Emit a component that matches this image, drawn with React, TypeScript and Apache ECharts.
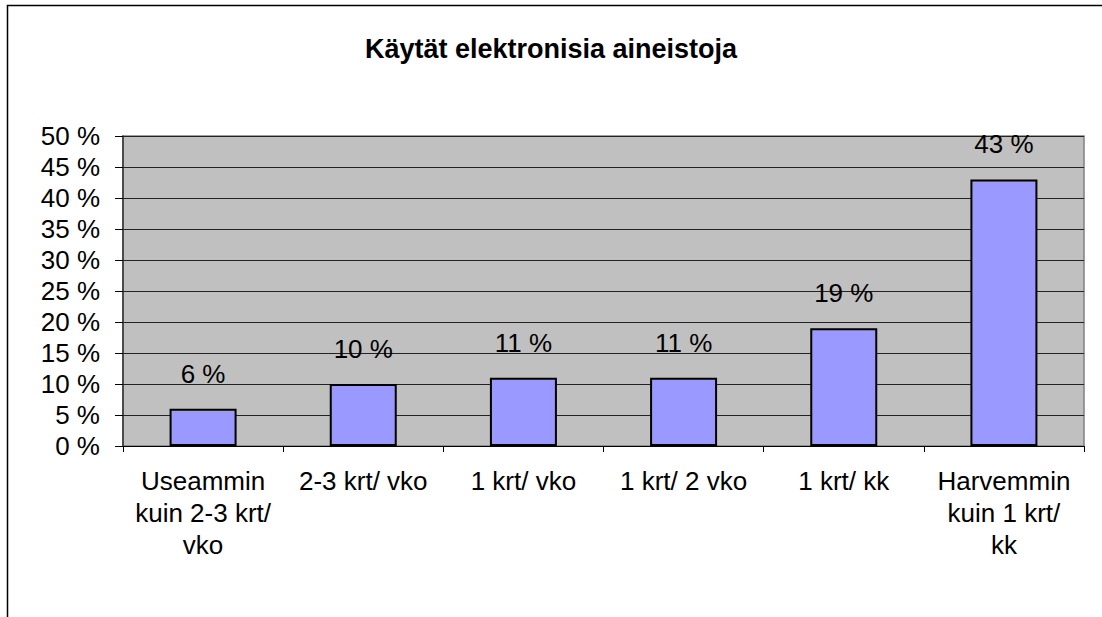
import React, { useEffect, useRef } from "react";
import * as echarts from "echarts";

const title = "Käytät elektronisia aineistoja";
const categories = [
  "Useammin\nkuin 2-3 krt/\nvko",
  "2-3 krt/ vko",
  "1 krt/ vko",
  "1 krt/ 2 vko",
  "1 krt/ kk",
  "Harvemmin\nkuin 1 krt/\nkk",
];
const values = [6, 10, 11, 11, 19, 43];
const yMin = 0;
const yMax = 50;
const yStep = 5;

export default function App() {
  const ref = useRef<HTMLDivElement>(null);
  useEffect(() => {
    if (!ref.current) return;
    const chart = echarts.init(ref.current, undefined, { renderer: "svg" });
    const font = "Arial, 'Liberation Sans', sans-serif";
    chart.setOption({
      animation: false,
      backgroundColor: "#ffffff",
      textStyle: { fontFamily: font },
      title: {
        text: title,
        left: "center",
        top: 30,
        textStyle: { fontSize: 27, fontWeight: "bold", color: "#000", fontFamily: font },
      },
      graphic: [
        {
          type: "rect",
          shape: { x: 7.5, y: 5.5, width: 1200, height: 800 },
          style: { fill: "none", stroke: "#000", lineWidth: 1.5 },
          silent: true,
        },
      ],
      grid: {
        left: 123,
        top: 136,
        right: 18,
        bottom: 171,
        show: true,
        backgroundColor: "#C0C0C0",
        borderColor: "#808080",
        borderWidth: 1.5,
      },
      xAxis: {
        type: "category",
        data: categories,
        axisLine: { show: true, lineStyle: { color: "#000", width: 1 } },
        axisTick: { show: true, alignWithLabel: false, length: 6, lineStyle: { color: "#000" } },
        axisLabel: {
          interval: 0,
          fontSize: 26,
          color: "#000",
          lineHeight: 32,
          margin: 19,
          fontFamily: font,
        },
      },
      yAxis: {
        type: "value",
        min: yMin,
        max: yMax,
        interval: yStep,
        axisLine: { show: true, lineStyle: { color: "#333", width: 1.5 } },
        axisTick: { show: true, length: 8, lineStyle: { color: "#000" } },
        axisLabel: {
          formatter: "{value} %",
          fontSize: 26,
          color: "#000",
          margin: 23,
          fontFamily: font,
        },
        splitLine: { show: true, lineStyle: { color: "#222", width: 1 } },
      },
      series: [
        {
          type: "bar",
          data: values,
          barWidth: 67,
          itemStyle: { color: "#9999FF", borderColor: "#000", borderWidth: 2 },
          label: {
            show: true,
            position: "top",
            distance: 22,
            formatter: "{c} %",
            fontSize: 26,
            color: "#000",
            fontFamily: font,
          },
        },
      ],
    });
    return () => chart.dispose();
  }, []);
  return (
    <div
      ref={ref}
      style={{ position: "absolute", left: 0, top: 0, width: 1102, height: 617 }}
    />
  );
}
